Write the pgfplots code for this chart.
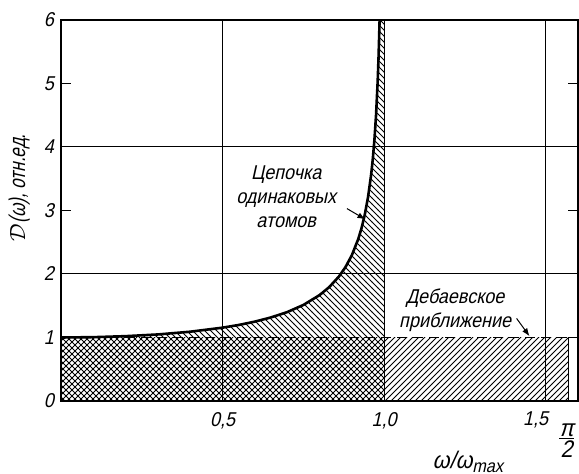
\documentclass[border=0pt]{standalone}
\usepackage{fontspec}
\setmainfont{Liberation Sans}[FakeSlant=0.22, FakeStretch=0.9]
\newfontfamily\narrowf{Liberation Sans}[FakeSlant=0.22, FakeStretch=0.75]
\usepackage{pgfplots}
\pgfplotsset{compat=1.18}
\usetikzlibrary{patterns,arrows.meta}
\begin{document}
\begin{tikzpicture}
\begin{axis}[
  scale only axis,
  width=258.5pt, height=190.5pt,
  xmin=0, xmax=1.6, ymin=0, ymax=6,
  axis line style={line width=1pt},
  xtick={0.5,1,1.5},
  xticklabels={{0,5},{1,0},{\kern-10pt 1,5}},
  xtick style={draw=none},
  xmajorgrids,
  grid style={line width=0.5pt, black},
  x tick label style={yshift=-2pt},
  extra x ticks={1.5708},
  extra x tick labels={\begin{tabular}{@{}c@{}}\large π\\[-3pt]\hline\\[-11pt]\large 2\end{tabular}},
  extra x tick style={grid=none, tick style={draw=none}, tick label style={yshift=-4pt, xshift=-1pt}},
  ytick={0,1,2,3,4,5,6},
  yticklabels={0,1,2,3,4,5,6},
  ytick pos=both, tick align=inside,
  major tick length=5pt,
  ytick style={line width=0.5pt, black},
  extra y ticks={2,4},
  extra y tick labels={},
  extra y tick style={grid=major},
  xlabel={\large ω/ω{\small\raisebox{-0.5ex}{max}}},
  xlabel style={at={(rel axis cs:0.787,0)}, anchor=center, yshift=-30.5pt},
  ylabel={\narrowf $\mathcal{D}$(ω), отн.ед.},
  ylabel style={at={(axis description cs:-0.081,0.56)}, anchor=center, font=\fontsize{11.4}{13}\selectfont},
  clip=false,
]
% Debye approximation rectangle
\addplot[draw=none, pattern=north east lines] coordinates {(0,0) (0,1) (1.5708,1) (1.5708,0)} -- cycle;
% chain of identical atoms: area under curve
\addplot[draw=none, pattern=north west lines] coordinates {
(0,0) (0,1.000) (0.1,1.005) (0.2,1.021) (0.3,1.048) (0.4,1.091) (0.5,1.155)
(0.55,1.197) (0.6,1.250) (0.65,1.316) (0.7,1.400) (0.75,1.512) (0.8,1.667)
(0.83,1.793) (0.86,1.960) (0.88,2.105) (0.9,2.294) (0.92,2.552) (0.93,2.720)
(0.94,2.931) (0.95,3.203) (0.96,3.571) (0.965,3.813) (0.97,4.113) (0.975,4.502)
(0.98,5.025) (0.983,5.452) (0.986,6.000) (1,6) (1,0)} -- cycle;
\addplot[line width=1.3pt, black] coordinates {
(0,1.000) (0.1,1.005) (0.2,1.021) (0.3,1.048) (0.4,1.091) (0.5,1.155)
(0.55,1.197) (0.6,1.250) (0.65,1.316) (0.7,1.400) (0.75,1.512) (0.8,1.667)
(0.83,1.793) (0.86,1.960) (0.88,2.105) (0.9,2.294) (0.92,2.552) (0.93,2.720)
(0.94,2.931) (0.95,3.203) (0.96,3.571) (0.965,3.813) (0.97,4.113) (0.975,4.502)
(0.98,5.025) (0.983,5.452) (0.986,6.000)};
\addplot[line width=0.9pt, black, dash pattern=on 5pt off 3pt] coordinates {(0,1) (1.5708,1)};
\addplot[line width=0.6pt, black] coordinates {(1.5708,1) (1.5708,0)};
% annotations
\node[align=center, inner sep=0pt] at (axis cs:0.697,3.22) {Цепочка\\одинаковых\\атомов};
\draw[-{Latex[length=4pt]}, line width=0.5pt] (axis cs:0.885,3.03) -- (axis cs:0.942,2.86);
\node[align=center, inner sep=0pt] at (axis cs:1.22,1.43) {Дебаевское\\приближение};
\draw[-{Latex[length=4pt]}, line width=0.5pt] (axis cs:1.41,1.30) -- (axis cs:1.45,1.02);
\end{axis}
\pgfresetboundingbox
\path (current axis.south west) ++(-30.5pt,-36.5pt) rectangle ([xshift=0.5pt,yshift=10pt]current axis.north east);
\end{tikzpicture}
\end{document}
